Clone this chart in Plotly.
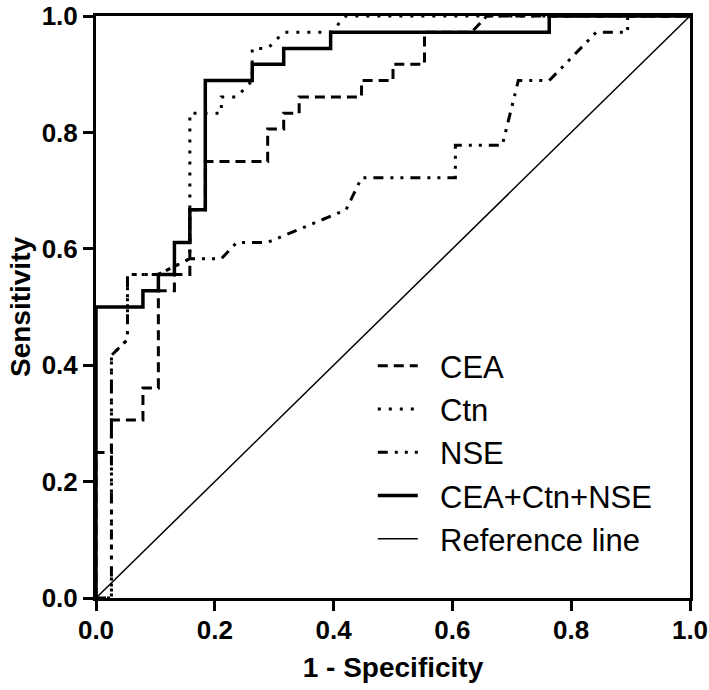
import plotly.graph_objects as go

# ROC curve coordinates (1 - specificity, sensitivity)
cea_fpr = [0, 0, 0.026, 0.026, 0.079, 0.079, 0.105, 0.105, 0.132, 0.132, 0.158, 0.158, 0.184, 0.184,
           0.289, 0.289, 0.316, 0.316, 0.342, 0.342, 0.447, 0.447, 0.500, 0.500, 0.553, 0.553,
           0.632, 0.658, 1.0]
cea_tpr = [0, 0.25, 0.25, 0.306, 0.306, 0.361, 0.361, 0.528, 0.528, 0.556, 0.556, 0.667, 0.667, 0.75,
           0.75, 0.806, 0.806, 0.833, 0.833, 0.861, 0.861, 0.889, 0.889, 0.917, 0.917, 0.972,
           0.972, 1.0, 1.0]

ctn_fpr = [0, 0.026, 0.026, 0.053, 0.053, 0.105, 0.158, 0.158, 0.211, 0.211, 0.237, 0.263, 0.263,
           0.289, 0.316, 0.395, 0.421, 1.0]
ctn_tpr = [0, 0, 0.417, 0.444, 0.556, 0.556, 0.583, 0.833, 0.833, 0.861, 0.861, 0.889, 0.944,
           0.944, 0.972, 0.972, 1.0, 1.0]

nse_fpr = [0, 0.026, 0.026, 0.053, 0.053, 0.105, 0.158, 0.211, 0.237, 0.289, 0.421, 0.447, 0.605,
           0.605, 0.684, 0.711, 0.763, 0.842, 0.895, 0.895, 1.0]
nse_tpr = [0, 0, 0.417, 0.444, 0.556, 0.556, 0.583, 0.583, 0.611, 0.611, 0.667, 0.722, 0.722,
           0.778, 0.778, 0.889, 0.889, 0.972, 0.972, 1.0, 1.0]

comb_fpr = [0, 0, 0.079, 0.079, 0.105, 0.105, 0.132, 0.132, 0.158, 0.158, 0.184, 0.184, 0.263,
            0.263, 0.316, 0.316, 0.395, 0.395, 0.763, 0.763, 1.0]
comb_tpr = [0, 0.5, 0.5, 0.528, 0.528, 0.556, 0.556, 0.611, 0.611, 0.667, 0.667, 0.889, 0.889,
            0.917, 0.917, 0.944, 0.944, 0.972, 0.972, 1.0, 1.0]

ref_x = [0, 1]
ref_y = [0, 1]

series_names = ["CEA", "Ctn", "NSE", "CEA+Ctn+NSE", "Reference line"]

tick_vals = [0.0, 0.2, 0.4, 0.6, 0.8, 1.0]
tick_text = ["0.0", "0.2", "0.4", "0.6", "0.8", "1.0"]

FONT = "Liberation Sans, Arial, Helvetica, sans-serif"
PAD = "\u00a0\u00a0"  # gap between legend symbol and label

fig = go.Figure()
fig.add_trace(go.Scatter(x=cea_fpr, y=cea_tpr, mode="lines", name=PAD + series_names[0],
                         line=dict(color="black", width=3, dash="10px,6px")))
fig.add_trace(go.Scatter(x=ctn_fpr, y=ctn_tpr, mode="lines", name=PAD + series_names[1],
                         line=dict(color="black", width=3, dash="3px,8px")))
fig.add_trace(go.Scatter(x=nse_fpr, y=nse_tpr, mode="lines", name=PAD + series_names[2],
                         line=dict(color="black", width=3, dash="10px,7px,3px,7px,3px,7px")))
fig.add_trace(go.Scatter(x=comb_fpr, y=comb_tpr, mode="lines", name=PAD + series_names[3],
                         line=dict(color="black", width=3.5)))
fig.add_trace(go.Scatter(x=ref_x, y=ref_y, mode="lines", name=PAD + series_names[4],
                         line=dict(color="black", width=1.5)))

axis_common = dict(
    range=[0, 1], tickvals=tick_vals, ticktext=tick_text,
    showline=True, linecolor="black", linewidth=3, mirror=True,
    ticks="outside", ticklen=10, tickwidth=3, tickcolor="black",
    showgrid=False, zeroline=False, automargin=False, ticklabeloverflow="allow",
    tickfont=dict(family=FONT, size=26, color="black", weight="bold"),
)

fig.update_layout(
    width=709, height=690,
    margin=dict(l=96, r=19, t=16, b=92),
    paper_bgcolor="white", plot_bgcolor="white",
    font=dict(family=FONT, color="black"),
    xaxis=dict(**axis_common, ticklabelstandoff=-3,
               title=dict(text="1 - Specificity", standoff=14,
                          font=dict(family=FONT, size=28, color="black", weight="bold"))),
    yaxis=dict(**axis_common,
               title=dict(text="Sensitivity", standoff=3,
                          font=dict(family=FONT, size=28, color="black", weight="bold"))),
    legend=dict(x=0.466, y=0.445, xanchor="left", yanchor="top",
                font=dict(family=FONT, size=31, color="black"),
                bgcolor="rgba(0,0,0,0)", borderwidth=0, itemwidth=40),
    showlegend=True,
)

# remove the browser's default 8px page margin so the figure fills the window exactly
fig.write_html("out.html", config={"displayModeBar": False},
               post_script="document.body.style.margin='0';")
